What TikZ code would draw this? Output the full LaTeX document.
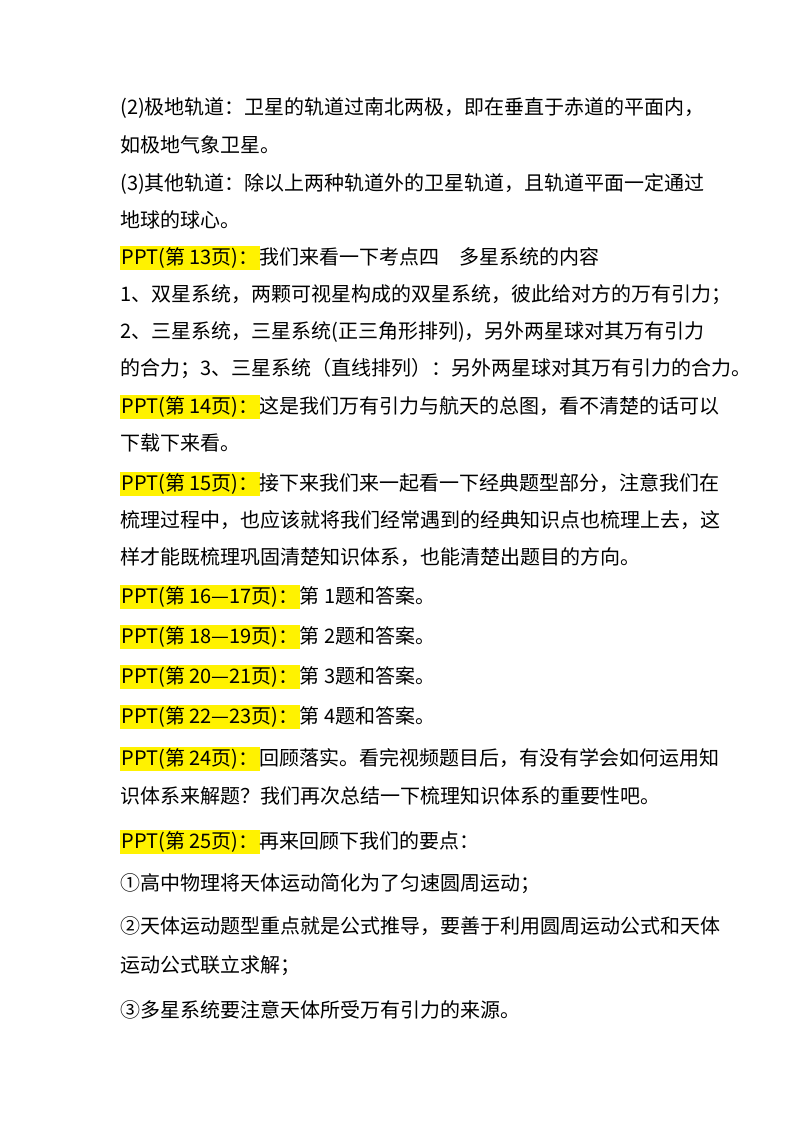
\documentclass[tikz,border=0pt]{standalone}
\usepackage{fontspec}
\setmainfont{Liberation Serif}
\newfontfamily\cjk{Noto Sans CJK SC}
\usepackage{xcolor}
\newcommand{\hl}[1]{{\setlength{\fboxsep}{1pt}\colorbox{yellow}{#1}}}
\begin{document}
\begin{tikzpicture}[x=0.75pt,y=-0.75pt,
  ln/.style={anchor=west,inner sep=0pt,font=\fontsize{15}{18}\selectfont\cjk}]
\useasboundingbox (0,0) rectangle (800,1132);
\fill[white] (0,0) rectangle (800,1132);
\node[ln] (l1) at (120,108) {(2)极地轨道：卫星的轨道过南北两极，即在垂直于赤道的平面内，};
\node[ln] (l2) at (120,145) {如极地气象卫星。};
\node[ln] (l3) at (120,184) {(3)其他轨道：除以上两种轨道外的卫星轨道，且轨道平面一定通过};
\node[ln] (l4) at (120,220) {地球的球心。};
\node[ln] (l5) at (120,258) {\hl{PPT(第 13页)：}我们来看一下考点四\quad 多星系统的内容};
\node[ln] (l6) at (120,295) {1、双星系统，两颗可视星构成的双星系统，彼此给对方的万有引力；};
\node[ln] (l7) at (120,332) {2、三星系统，三星系统(正三角形排列)，另外两星球对其万有引力};
\node[ln] (l8) at (120,369) {的合力；3、三星系统（直线排列）：另外两星球对其万有引力的合力。};
\node[ln] (l9) at (120,407) {\hl{PPT(第 14页)：}这是我们万有引力与航天的总图，看不清楚的话可以};
\node[ln] (l10) at (120,443) {下载下来看。};
\node[ln] (l11) at (120,484) {\hl{PPT(第 15页)：}接下来我们来一起看一下经典题型部分，注意我们在};
\node[ln] (l12) at (120,520) {梳理过程中，也应该就将我们经常遇到的经典知识点也梳理上去，这};
\node[ln] (l13) at (120,557) {样才能既梳理巩固清楚知识体系，也能清楚出题目的方向。};
\node[ln] (l14) at (120,597) {\hl{PPT(第 16—17页)：}第 1题和答案。};
\node[ln] (l15) at (120,637) {\hl{PPT(第 18—19页)：}第 2题和答案。};
\node[ln] (l16) at (120,677) {\hl{PPT(第 20—21页)：}第 3题和答案。};
\node[ln] (l17) at (120,717) {\hl{PPT(第 22—23页)：}第 4题和答案。};
\node[ln] (l18) at (120,759) {\hl{PPT(第 24页)：}回顾落实。看完视频题目后，有没有学会如何运用知};
\node[ln] (l19) at (120,796) {识体系来解题？我们再次总结一下梳理知识体系的重要性吧。};
\node[ln] (l20) at (120,842) {\hl{PPT(第 25页)：}再来回顾下我们的要点：};
\node[ln] (l21) at (120,884) {①高中物理将天体运动简化为了匀速圆周运动；};
\node[ln] (l22) at (120,926) {②天体运动题型重点就是公式推导，要善于利用圆周运动公式和天体};
\node[ln] (l23) at (120,966) {运动公式联立求解；};
\node[ln] (l24) at (120,1010) {③多星系统要注意天体所受万有引力的来源。};
\end{tikzpicture}
\end{document}
